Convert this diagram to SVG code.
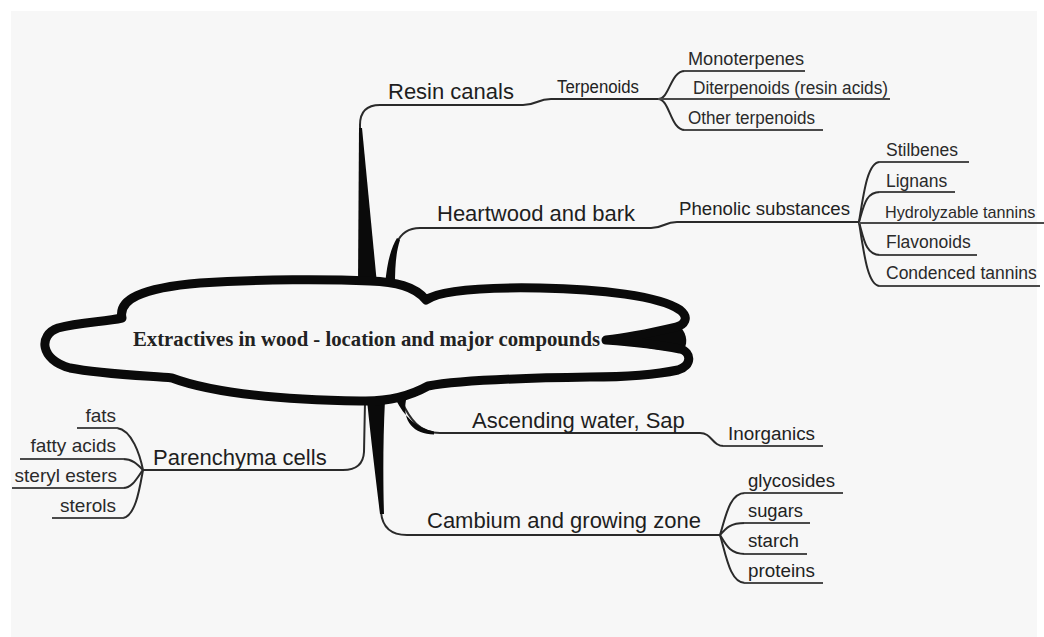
<svg xmlns="http://www.w3.org/2000/svg" width="1044" height="637" viewBox="0 0 1044 637">
<style>
.t1{font-family:"Liberation Sans",Arial,sans-serif;font-size:22px;fill:#1e1e1e}
.t2{font-family:"Liberation Sans",Arial,sans-serif;font-size:18px;fill:#222}
.t3{font-family:"Liberation Sans",Arial,sans-serif;font-size:17.5px;fill:#2a2a2a}
.tl{font-family:"Liberation Sans",Arial,sans-serif;font-size:19px;fill:#2a2a2a;text-anchor:end}
.ul{fill:none;stroke:#4a4a4a;stroke-width:2}
.cn{fill:none;stroke:#2a2a2a;stroke-width:2}
.wedge{fill:#0a0a0a}
.title{font-family:"Liberation Serif","Times New Roman",serif;font-weight:bold;font-size:21px;fill:#222}
</style>
<rect x="0" y="0" width="1044" height="637" fill="#ffffff"/>
<rect x="11" y="11" width="1026" height="626" fill="#f7f7f7"/>

<g id="connectors">
  <!-- Resin canals -->
  <path class="cn" d="M360,282 L360,125 Q360,105 380,105 L523,105 C537,105 537,99 551,99 L658,99"/>
  <path class="wedge" d="M358,284 L359,128 L362,128 L377,284 Z"/>
  <!-- Heartwood and bark -->
  <path class="cn" d="M390,286 C391,250 396,228 420,228 L651,228 C664,228 664,222 677,222 L859,222"/>
  <path class="wedge" d="M385,286 C387,262 391,248 397,238 L400,240 C396,252 395,266 395,286 Z"/>
  <!-- Ascending water, Sap -->
  <path class="cn" d="M401,400 C410,420 420,433 440,433 L700,433 C712,433 712,446 724,446 L823,446"/>
  <path class="wedge" d="M396,400 C404,416 416,428 434,431.5 L434,434.5 C414,434 402,422 406,400 Z"/>
  <!-- Cambium and growing zone -->
  <path class="cn" d="M377,400 L381,512 Q383,535 407,535 L720,535"/>
  <path class="wedge" d="M367,400 C371,440 376,480 380,514 L384,514 C383,480 383,440 385,400 Z"/>
  <!-- Parenchyma cells -->
  <path class="cn" d="M365,402 L364,452 Q363,470 343,470 L143,470" stroke-width="2.5"/>
  <!-- Terpenoids fan -->
  <path class="cn" d="M658,99 C670,99 670,71 685,71"/>
  <path class="cn" d="M658,99 C670,99 670,130 685,130"/>
  <!-- Phenolic fan -->
  <path class="cn" d="M859,222 C864,190 868,162 880,162"/>
  <path class="cn" d="M859,222 C864,205 866,192 880,192"/>
  <path class="cn" d="M859,222 C864,240 866,255 880,255"/>
  <path class="cn" d="M859,222 C864,255 868,286 880,286"/>
  <!-- Cambium fan -->
  <path class="cn" d="M720,535 C726,515 730,493 745,493"/>
  <path class="cn" d="M720,535 C726,528 730,523 745,523"/>
  <path class="cn" d="M720,535 C726,545 730,554 745,554"/>
  <path class="cn" d="M720,535 C726,555 730,583 745,583"/>
  <!-- Parenchyma fan -->
  <path class="cn" d="M117,428 C132,430 140,455 143,470"/>
  <path class="cn" d="M123,459 C133,459 138,465 143,470"/>
  <path class="cn" d="M123,488 C133,488 138,476 143,470"/>
  <path class="cn" d="M123,518 C136,516 140,486 143,470"/>
</g>

<g id="center">
  <path class="wedge" d="M606,340 C630,334 660,328 680,327 C688,334 688,346 682,352 C660,350 630,346 606,340 Z"/>
  <path d="M122,318 C118,300 140,288 200,283 C260,279 330,279 370,281 C395,282 415,286 426,300 C440,290 480,287 540,288 C600,289 660,296 680,310 C690,318 684,325 676,327 C650,333 625,338 606,340 C635,342 660,345 680,349 C692,352 692,366 678,370 C650,376 620,377 590,377 C520,378 460,380 428,386 C410,396 390,402 360,401 C300,400 220,396 172,378 C150,376 100,374 70,368 C40,360 38,335 58,328 C80,322 105,322 122,318 Z" fill="none" stroke="#0a0a0a" stroke-width="9" stroke-linejoin="round"/>
  <text class="title" x="133" y="346" textLength="467" lengthAdjust="spacingAndGlyphs">Extractives in wood - location and major compounds</text>
</g>

<g id="n-resin"><text class="t1" x="388" y="99">Resin canals</text></g>
<g id="n-terpenoids"><text class="t2" x="557" y="93" textLength="82" lengthAdjust="spacingAndGlyphs">Terpenoids</text></g>
<g id="n-mono"><path class="ul" d="M684,71 L805,71"/><text class="t3" x="688" y="65" textLength="116" lengthAdjust="spacingAndGlyphs">Monoterpenes</text></g>
<g id="n-diter"><path class="ul" d="M658,99 L890,99"/><text class="t3" x="693" y="94" textLength="195" lengthAdjust="spacingAndGlyphs">Diterpenoids (resin acids)</text></g>
<g id="n-other"><path class="ul" d="M684,130 L823,130"/><text class="t3" x="688" y="124" textLength="127" lengthAdjust="spacingAndGlyphs">Other terpenoids</text></g>

<g id="n-heartwood"><text class="t1" x="437" y="221">Heartwood and bark</text></g>
<g id="n-phenolic"><text class="t2" x="679" y="215" textLength="171" lengthAdjust="spacingAndGlyphs">Phenolic substances</text></g>
<g id="n-stilbenes"><path class="ul" d="M879,162 L969,162"/><text class="t3" x="886" y="156">Stilbenes</text></g>
<g id="n-lignans"><path class="ul" d="M879,192 L955,192"/><text class="t3" x="886" y="187">Lignans</text></g>
<g id="n-hydro"><path class="ul" d="M859,223 L1044,223"/><text class="t3" x="885" y="218" style="font-size:16.2px">Hydrolyzable tannins</text></g>
<g id="n-flavo"><path class="ul" d="M879,255 L977,255"/><text class="t3" x="886" y="248">Flavonoids</text></g>
<g id="n-conden"><path class="ul" d="M879,286 L1040,286"/><text class="t3" x="886" y="279">Condenced tannins</text></g>

<g id="n-ascending"><text class="t1" x="472" y="428">Ascending water, Sap</text></g>
<g id="n-inorganics"><path class="ul" d="M723,446 L823,446"/><text class="t2" x="728" y="440" textLength="87" lengthAdjust="spacingAndGlyphs">Inorganics</text></g>

<g id="n-cambium"><text class="t1" x="427" y="528">Cambium and growing zone</text></g>
<g id="n-glyco"><path class="ul" d="M744,493 L843,493"/><text class="t2" x="748" y="487" textLength="87" lengthAdjust="spacingAndGlyphs">glycosides</text></g>
<g id="n-sugars"><path class="ul" d="M744,523 L810,523"/><text class="t2" x="748" y="517" textLength="55" lengthAdjust="spacingAndGlyphs">sugars</text></g>
<g id="n-starch"><path class="ul" d="M744,554 L807,554"/><text class="t2" x="748" y="547" textLength="51" lengthAdjust="spacingAndGlyphs">starch</text></g>
<g id="n-proteins"><path class="ul" d="M744,583 L823,583"/><text class="t2" x="748" y="577" textLength="67" lengthAdjust="spacingAndGlyphs">proteins</text></g>

<g id="n-parenchyma"><text class="t1" x="153" y="465">Parenchyma cells</text></g>
<g id="n-fats"><path class="ul" d="M77,428 L118,428"/><text class="tl" x="116" y="422">fats</text></g>
<g id="n-fatty"><path class="ul" d="M20,459 L124,459"/><text class="tl" x="116" y="452">fatty acids</text></g>
<g id="n-steryl"><path class="ul" d="M12,488 L124,488"/><text class="tl" x="117" y="482">steryl esters</text></g>
<g id="n-sterols"><path class="ul" d="M52,518 L124,518"/><text class="tl" x="116" y="512">sterols</text></g>
</svg>
